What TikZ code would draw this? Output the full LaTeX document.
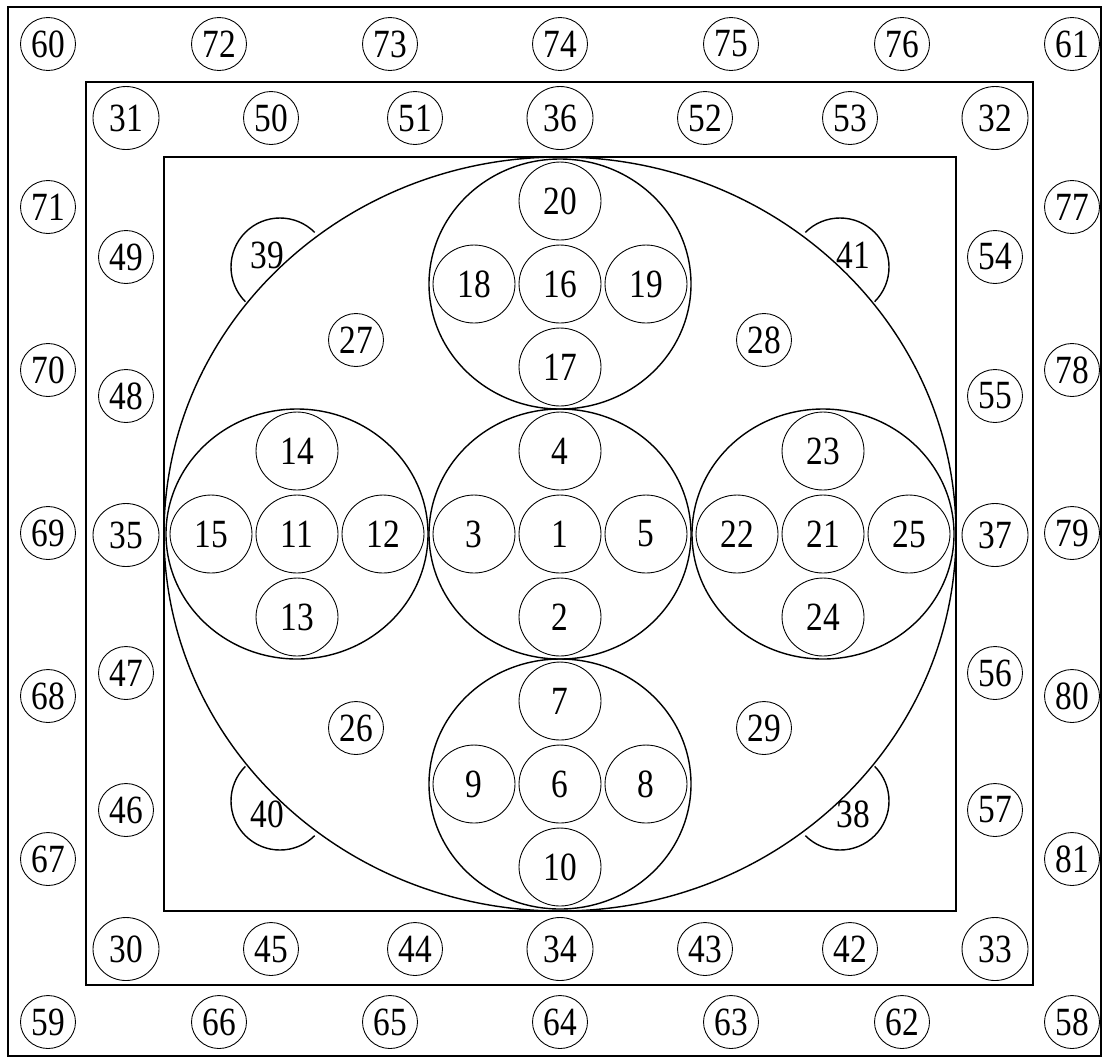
\documentclass[tikz,border=0pt]{standalone}
\usepackage{fontspec}
\setmainfont{Liberation Serif}
\usepackage{graphicx}
\usetikzlibrary{shapes.geometric}
\newcommand{\tall}[1]{\scalebox{1}[1.2]{#1}}

\begin{document}
\begin{tikzpicture}[x=0.02cm, y=-0.02cm,
    numS/.style={ellipse, draw, line width=0.5pt, inner sep=0, minimum width=1.1cm, minimum height=1.06cm, font=\fontsize{19}{19}\selectfont},
    numL/.style={numS, minimum width=1.32cm, minimum height=1.26cm},
    numI/.style={numS, minimum width=1.64cm, minimum height=1.56cm},
    numT/.style={inner sep=0, font=\fontsize{19}{19}\selectfont},
    ring/.style={line width=0.8pt}]
      \useasboundingbox (0,0) rectangle (1104,1059);
      % Frames
      \draw[line width=0.8pt] (8,7) rectangle (1101,1056);
      \draw[line width=1.1pt] (86,82) rectangle (1033,985);
      \draw[line width=1.1pt] (164,157) rectangle (956,911);
      % Big circle and the five groups
      \draw[ring] (560,534) ellipse [x radius=396, y radius=377];
      \draw[ring] (560,534) ellipse [x radius=131, y radius=125];
      \draw[ring] (560,284) ellipse [x radius=131, y radius=125];
      \draw[ring] (297,534) ellipse [x radius=131, y radius=125];
      \draw[ring] (823,534) ellipse [x radius=131, y radius=125];
      \draw[ring] (560,784) ellipse [x radius=131, y radius=125];
      % Half circles on the big circle
      \coordinate (h39) at (280,267);
      \coordinate (h41) at (840,267);
      \coordinate (h40) at (280,801);
      \coordinate (h38) at (840,801);
      \draw[ring] (h39) ++(135:49) arc[start angle=135, end angle=315, radius=49];
      \draw[ring] (h41) ++(225:49) arc[start angle=225, end angle=405, radius=49];
      \draw[ring] (h40) ++(45:49) arc[start angle=45, end angle=225, radius=49];
      \draw[ring] (h38) ++(-45:49) arc[start angle=-45, end angle=135, radius=49];
      \node[numT] (n39) at (267,255) {\tall{39}};
      \node[numT] (n41) at (853,255) {\tall{41}};
      \node[numT] (n40) at (267,814) {\tall{40}};
      \node[numT] (n38) at (853,814) {\tall{38}};
      % Centre group
      \node[numI] (n1) at (560,534) {\tall{1}};
      \node[numI] (n3) at (474,534) {\tall{3}};
      \node[numI] (n5) at (646,534) {\tall{5}};
      \node[numI] (n4) at (560,451) {\tall{4}};
      \node[numI] (n2) at (560,617) {\tall{2}};
      % Bottom group
      \node[numI] (n6) at (560,784) {\tall{6}};
      \node[numI] (n9) at (474,784) {\tall{9}};
      \node[numI] (n8) at (646,784) {\tall{8}};
      \node[numI] (n7) at (560,701) {\tall{7}};
      \node[numI] (n10) at (560,867) {\tall{10}};
      % Left group
      \node[numI] (n11) at (297,534) {\tall{11}};
      \node[numI] (n15) at (211,534) {\tall{15}};
      \node[numI] (n12) at (383,534) {\tall{12}};
      \node[numI] (n14) at (297,451) {\tall{14}};
      \node[numI] (n13) at (297,617) {\tall{13}};
      % Top group
      \node[numI] (n16) at (560,284) {\tall{16}};
      \node[numI] (n18) at (474,284) {\tall{18}};
      \node[numI] (n19) at (646,284) {\tall{19}};
      \node[numI] (n20) at (560,201) {\tall{20}};
      \node[numI] (n17) at (560,367) {\tall{17}};
      % Right group
      \node[numI] (n21) at (823,534) {\tall{21}};
      \node[numI] (n22) at (737,534) {\tall{22}};
      \node[numI] (n25) at (909,534) {\tall{25}};
      \node[numI] (n23) at (823,451) {\tall{23}};
      \node[numI] (n24) at (823,617) {\tall{24}};
      % Between the groups
      \node[numS] (n27) at (356,340) {\tall{27}};
      \node[numS] (n28) at (764,340) {\tall{28}};
      \node[numS] (n26) at (356,728) {\tall{26}};
      \node[numS] (n29) at (764,728) {\tall{29}};
      % Middle band, top and bottom
      \node[numL] (n31) at (126,118) {\tall{31}};
      \node[numS] (n50) at (271,118) {\tall{50}};
      \node[numS] (n51) at (415,118) {\tall{51}};
      \node[numL] (n36) at (560,118) {\tall{36}};
      \node[numS] (n52) at (705,118) {\tall{52}};
      \node[numS] (n53) at (850,118) {\tall{53}};
      \node[numL] (n32) at (995,118) {\tall{32}};
      \node[numL] (n30) at (126,949) {\tall{30}};
      \node[numS] (n45) at (271,949) {\tall{45}};
      \node[numS] (n44) at (415,949) {\tall{44}};
      \node[numL] (n34) at (560,949) {\tall{34}};
      \node[numS] (n43) at (705,949) {\tall{43}};
      \node[numS] (n42) at (850,949) {\tall{42}};
      \node[numL] (n33) at (995,949) {\tall{33}};
      % Middle band, sides
      \node[numS] (n49) at (126,257) {\tall{49}};
      \node[numS] (n48) at (126,396) {\tall{48}};
      \node[numL] (n35) at (126,535) {\tall{35}};
      \node[numS] (n47) at (126,673) {\tall{47}};
      \node[numS] (n46) at (126,810) {\tall{46}};
      \node[numS] (n54) at (995,257) {\tall{54}};
      \node[numS] (n55) at (995,396) {\tall{55}};
      \node[numL] (n37) at (995,535) {\tall{37}};
      \node[numS] (n56) at (995,673) {\tall{56}};
      \node[numS] (n57) at (995,810) {\tall{57}};
      % Outer band, top and bottom
      \node[numS] (n60) at (48,44) {\tall{60}};
      \node[numS] (n72) at (219,44) {\tall{72}};
      \node[numS] (n73) at (390,44) {\tall{73}};
      \node[numS] (n74) at (560,44) {\tall{74}};
      \node[numS] (n75) at (731,44) {\tall{75}};
      \node[numS] (n76) at (902,44) {\tall{76}};
      \node[numS] (n61) at (1072,44) {\tall{61}};
      \node[numS] (n59) at (48,1022) {\tall{59}};
      \node[numS] (n66) at (219,1022) {\tall{66}};
      \node[numS] (n65) at (390,1022) {\tall{65}};
      \node[numS] (n64) at (560,1022) {\tall{64}};
      \node[numS] (n63) at (731,1022) {\tall{63}};
      \node[numS] (n62) at (902,1022) {\tall{62}};
      \node[numS] (n58) at (1072,1022) {\tall{58}};
      % Outer band, sides
      \node[numS] (n71) at (48,207) {\tall{71}};
      \node[numS] (n70) at (48,370) {\tall{70}};
      \node[numS] (n69) at (48,533) {\tall{69}};
      \node[numS] (n68) at (48,696) {\tall{68}};
      \node[numS] (n67) at (48,859) {\tall{67}};
      \node[numS] (n77) at (1072,207) {\tall{77}};
      \node[numS] (n78) at (1072,370) {\tall{78}};
      \node[numS] (n79) at (1072,533) {\tall{79}};
      \node[numS] (n80) at (1072,696) {\tall{80}};
      \node[numS] (n81) at (1072,859) {\tall{81}};
    \end{tikzpicture}
\end{document}
